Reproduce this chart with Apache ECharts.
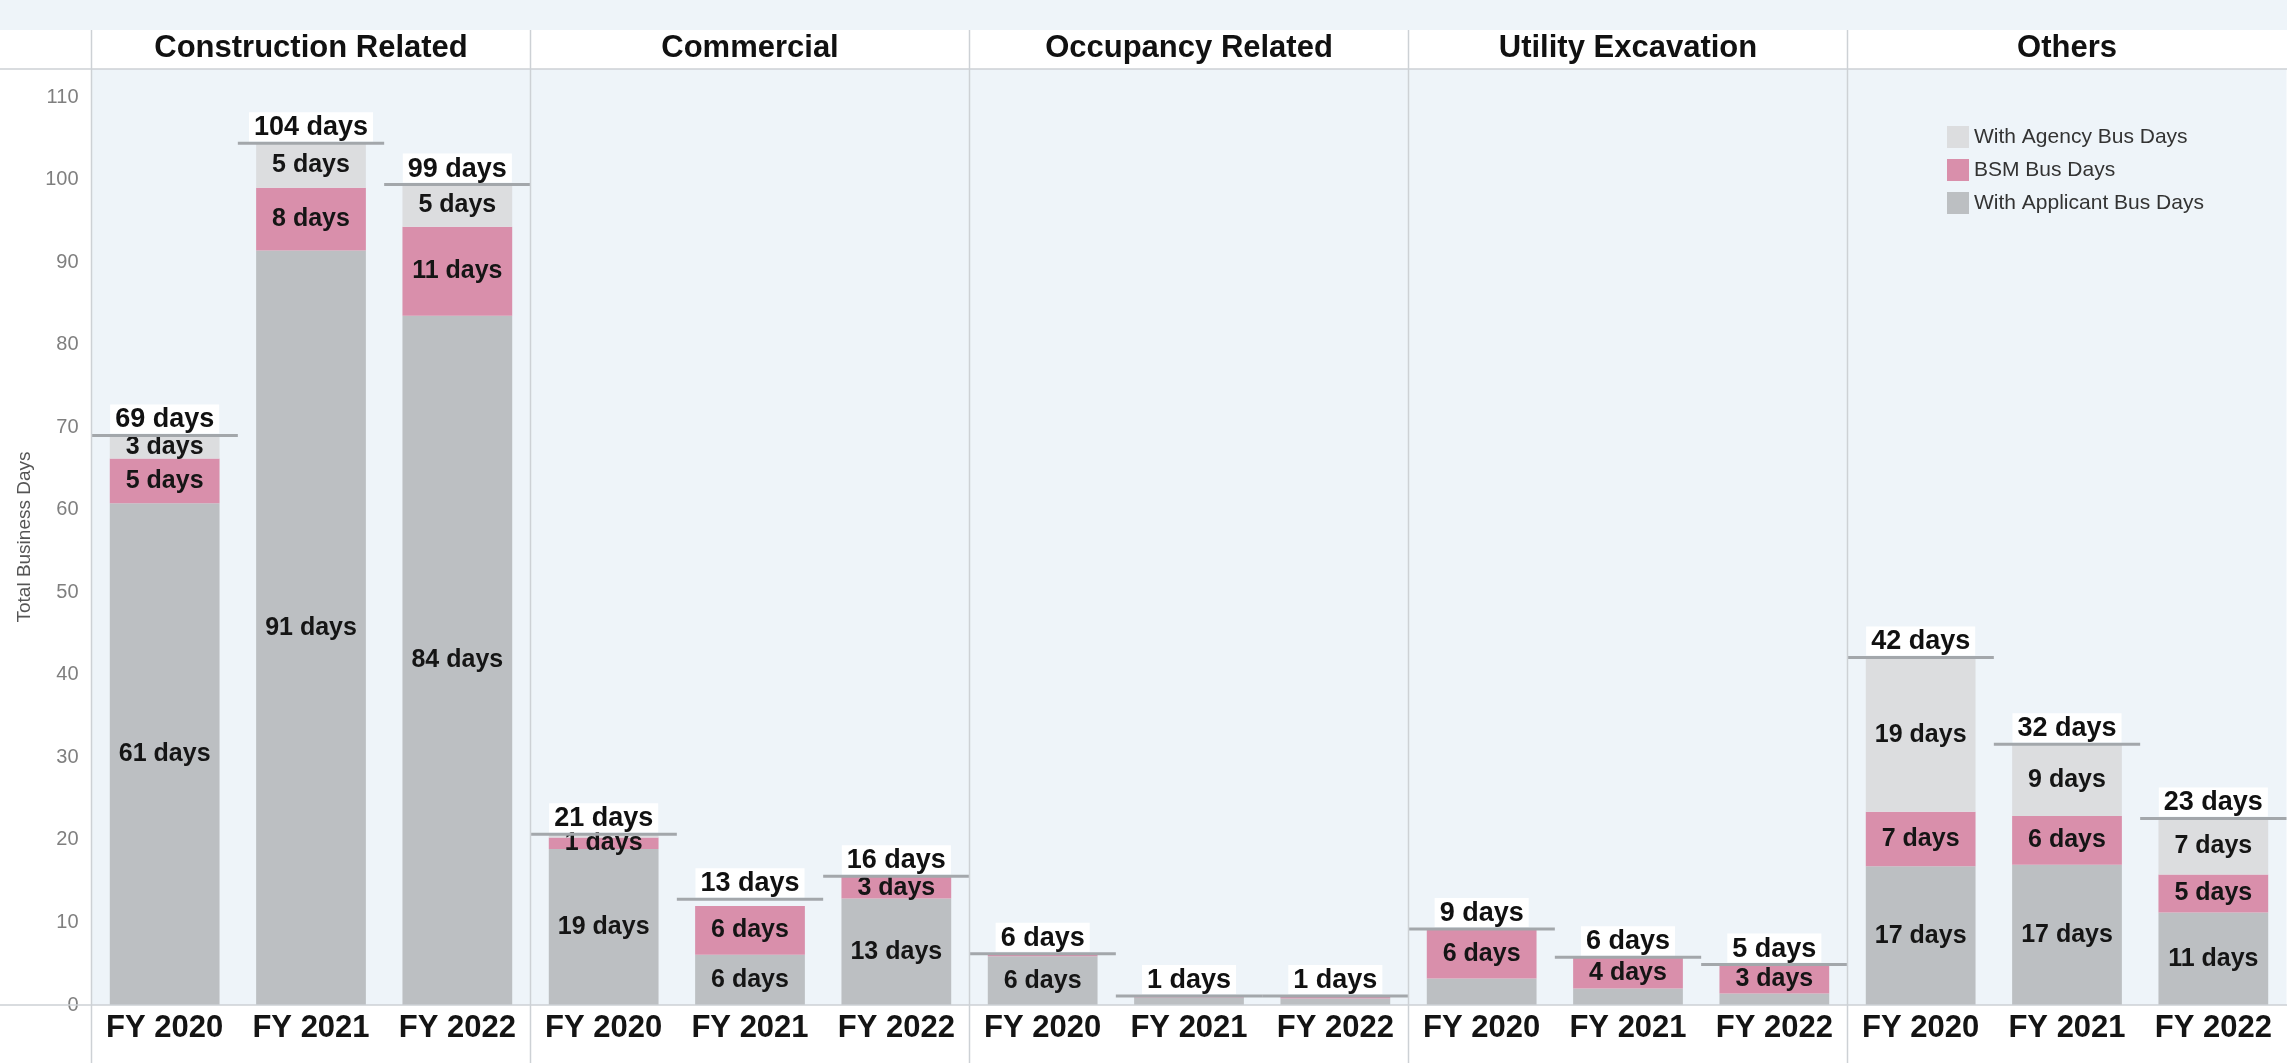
<!DOCTYPE html>
<html>
<head>
<meta charset="utf-8">
<script src="https://cdn.jsdelivr.net/npm/echarts@6/dist/echarts.min.js"></script>
<style>
html,body{margin:0;padding:0;background:#ffffff;}
#chart{width:2287px;height:1063px;}
</style>
</head>
<body>
<div id="chart"></div>
<script>
// ---- data ----
const categories = ['Construction Related', 'Commercial', 'Occupancy Related', 'Utility Excavation', 'Others'];
const years = ['FY 2020', 'FY 2021', 'FY 2022'];
const seriesNames = ['With Applicant Bus Days', 'BSM Bus Days', 'With Agency Bus Days'];
const applicantDays = [[60.8, 91.4, 83.5], [18.9, 6.1, 12.9], [5.9, 0.9, 0.8], [3.2, 2.0, 1.4], [16.8, 17.0, 11.2]];
const bsmDays       = [[5.4, 7.6, 10.8],  [1.4, 5.9, 2.6],  [0.3, 0.2, 0.2], [5.9, 3.7, 3.4], [6.6, 5.9, 4.6]];
const agencyDays    = [[2.8, 5.4, 5.1],   [0.4, 0.0, 0.1],  [0.0, 0.0, 0.0], [0.0, 0.0, 0.1], [18.7, 8.7, 6.8]];
const totalDays     = [[69.0, 104.4, 99.4], [20.7, 12.8, 15.6], [6.2, 1.1, 1.1], [9.2, 5.8, 4.9], [42.1, 31.6, 22.6]];
const yTicks = [0, 10, 20, 30, 40, 50, 60, 70, 80, 90, 100, 110];

// ---- style ----
const FONT = '"Liberation Sans", Arial, Helvetica, sans-serif';
const colors = ['#bcbfc2', '#d98fab', '#dcdddf'];
const labelMin = [4, 1, 1];
const W = 2287, H = 1063;
const plotLeft = 91.5, panelW = 439, plotTop = 69, plotBottom = 1005;
const yMax = 113.4;
const bg = '#eef4f9';
const lineCol = '#cdd1d5';

const segData = [applicantDays, bsmDays, agencyDays];

const grids = [], xAxes = [], yAxes = [], series = [], titles = [];
categories.forEach((cat, i) => {
  const left = plotLeft + i * panelW;
  grids.push({left: left, top: plotTop, width: panelW, height: plotBottom - plotTop,
    show: true, backgroundColor: bg, borderWidth: 0, containLabel: false});
  xAxes.push({type: 'category', gridIndex: i, data: years,
    axisLine: {show: false}, axisTick: {show: false}, splitLine: {show: false},
    axisLabel: {interval: 0, hideOverlap: false, margin: 8, fontSize: 31, fontWeight: 'bold', color: '#141414', fontFamily: FONT}});
  yAxes.push({type: 'value', gridIndex: i, min: 0, max: yMax, interval: 10,
    axisLine: {show: false}, axisTick: {show: false}, splitLine: {show: false},
    axisLabel: {show: i === 0, showMaxLabel: false, fontSize: 20, color: '#7f7f7f', margin: 13, fontFamily: FONT,
      formatter: v => (yTicks.indexOf(v) >= 0 ? String(v) : '')},
    name: i === 0 ? 'Total Business Days' : '', nameLocation: 'middle', nameGap: 57,
    nameTextStyle: {fontSize: 19, color: '#555', fontFamily: FONT}});
  titles.push({text: cat, left: left + panelW / 2, top: 33, textAlign: 'center', padding: 0,
    textStyle: {fontSize: 31, fontWeight: 'bold', color: '#111', fontFamily: FONT}});
  segData.forEach((arr, s) => {
    series.push({
      type: 'bar', name: seriesNames[s], xAxisIndex: i, yAxisIndex: i, stack: 'st' + i,
      barCategoryGap: '25%', data: arr[i],
      itemStyle: {color: colors[s]},
      label: {show: true, position: 'inside', fontSize: 25, fontWeight: 'bold', color: '#151515', fontFamily: FONT,
        formatter: p => (p.value >= labelMin[s] ? Math.round(p.value) + ' days' : '')},
      emphasis: {disabled: true}
    });
  });
  series.push({
    type: 'custom', name: 'Total', xAxisIndex: i, yAxisIndex: i, z: 5,
    data: totalDays[i].map((t, j) => [j, t]),
    renderItem: (params, api) => {
      const v = api.value(1);
      const p = api.coord([api.value(0), v]);
      const bw = api.size([1, 0])[0];
      return {type: 'group', children: [
        {type: 'line', shape: {x1: p[0] - bw / 2, y1: p[1], x2: p[0] + bw / 2, y2: p[1]},
          style: {stroke: '#a3a7ab', lineWidth: 3}},
        {type: 'text', x: p[0], y: p[1] - 2,
          style: {text: Math.round(v) + ' days', fill: '#111', fontSize: 27, fontWeight: 'bold', fontFamily: FONT,
            align: 'center', verticalAlign: 'bottom', backgroundColor: '#ffffff', padding: [2, 5, 0, 5]}}
      ]};
    }
  });
});

const graphics = [
  {type: 'rect', shape: {x: 0, y: 0, width: W, height: 30}, style: {fill: bg}, z: 0},
  {type: 'line', shape: {x1: 0, y1: plotTop, x2: W, y2: plotTop}, style: {stroke: lineCol, lineWidth: 1.5}, z: 100},
  {type: 'line', shape: {x1: 0, y1: plotBottom, x2: W, y2: plotBottom}, style: {stroke: lineCol, lineWidth: 1.5}, z: 100}
];
for (let i = 0; i < categories.length; i++) {
  const x = plotLeft + i * panelW;
  graphics.push({type: 'line', shape: {x1: x, y1: 30, x2: x, y2: H}, style: {stroke: lineCol, lineWidth: 1.5}, z: 100});
}

const chart = echarts.init(document.getElementById('chart'), null, {renderer: 'canvas'});
chart.setOption({
  animation: false,
  backgroundColor: '#ffffff',
  textStyle: {fontFamily: FONT},
  title: titles,
  grid: grids,
  xAxis: xAxes,
  yAxis: yAxes,
  legend: {
    orient: 'vertical', left: 1942, top: 121, itemWidth: 22, itemHeight: 22, itemGap: 11,
    icon: 'rect', selectedMode: false,
    data: ['With Agency Bus Days', 'BSM Bus Days', 'With Applicant Bus Days'],
    textStyle: {fontSize: 21, color: '#333', fontFamily: FONT}
  },
  graphic: graphics,
  series: series
});
</script>
</body>
</html>
